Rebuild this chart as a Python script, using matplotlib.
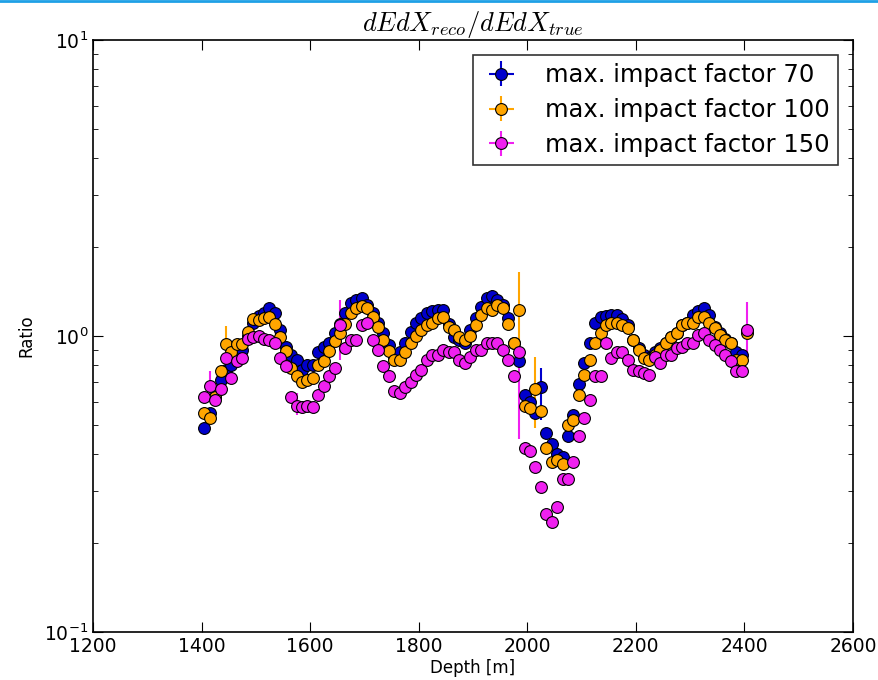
# dE/dX ratio vs depth for three max. impact factor settings
import numpy as np
import matplotlib.pyplot as plt
from matplotlib.lines import Line2D

# depth grid (m)
depth = np.arange(1405, 2406, 10)

# ratio values
ratio_70 = [0.49, 0.55, 0.62, 0.71, 0.77, 0.80, 0.85, 0.90, 1.00, 1.11,
            1.17, 1.20, 1.24, 1.20, 1.05, 0.92, 0.86, 0.83, 0.77, 0.80,
            0.80, 0.88, 0.92, 0.95, 1.02, 1.10, 1.20, 1.29, 1.32, 1.34,
            1.27, 1.20, 1.11, 1.02, 0.93, 0.85, 0.88, 0.95, 1.03, 1.11,
            1.15, 1.20, 1.21, 1.22, 1.22, 1.10, 0.99, 0.97, 0.95, 1.05,
            1.15, 1.25, 1.34, 1.37, 1.32, 1.27, 1.15, 0.95, 0.82, 0.63,
            0.60, 0.55, 0.67, 0.47, 0.43, 0.40, 0.39, 0.46, 0.54, 0.69,
            0.81, 0.95, 1.11, 1.16, 1.17, 1.18, 1.18, 1.14, 1.09, 0.97,
            0.91, 0.86, 0.84, 0.88, 0.91, 0.95, 0.99, 1.02, 1.09, 1.11,
            1.18, 1.21, 1.24, 1.18, 1.07, 1.02, 0.98, 0.95, 0.88, 0.86,
            1.04]
ratio_100 = [0.55, 0.53, 0.62, 0.76, 0.94, 0.88, 0.94, 0.94, 1.03, 1.14,
             1.13, 1.15, 1.16, 1.10, 0.99, 0.89, 0.78, 0.73, 0.70, 0.71,
             0.72, 0.80, 0.82, 0.89, 0.96, 1.02, 1.10, 1.20, 1.24, 1.26,
             1.24, 1.16, 1.07, 0.97, 0.89, 0.83, 0.83, 0.88, 0.95, 1.00,
             1.05, 1.09, 1.11, 1.15, 1.16, 1.07, 1.05, 0.99, 0.97, 1.00,
             1.09, 1.18, 1.24, 1.22, 1.27, 1.24, 1.10, 0.95, 1.22, 0.58,
             0.57, 0.66, 0.56, 0.42, 0.375, 0.38, 0.37, 0.50, 0.52, 0.63,
             0.74, 0.83, 0.95, 1.02, 1.09, 1.11, 1.11, 1.09, 1.06, 0.97,
             0.90, 0.84, 0.83, 0.86, 0.90, 0.95, 0.99, 1.02, 1.09, 1.11,
             1.11, 1.16, 1.16, 1.11, 1.06, 1.01, 0.97, 0.95, 0.83, 0.83,
             1.02]
ratio_150 = [0.62, 0.68, 0.61, 0.66, 0.84, 0.72, 0.82, 0.84, 0.98, 0.99,
             1.00, 0.98, 0.97, 0.95, 0.84, 0.79, 0.62, 0.58, 0.575, 0.58,
             0.575, 0.63, 0.68, 0.73, 0.78, 1.09, 0.91, 0.97, 0.97, 1.09,
             1.11, 0.97, 0.90, 0.79, 0.73, 0.65, 0.64, 0.67, 0.70, 0.74,
             0.77, 0.83, 0.86, 0.86, 0.90, 0.88, 0.88, 0.83, 0.81, 0.85,
             0.90, 0.90, 0.95, 0.95, 0.95, 0.90, 0.83, 0.73, 0.88, 0.42,
             0.41, 0.36, 0.31, 0.25, 0.235, 0.265, 0.33, 0.33, 0.375, 0.46,
             0.53, 0.61, 0.73, 0.73, 0.95, 0.84, 0.88, 0.88, 0.83, 0.77,
             0.76, 0.75, 0.74, 0.85, 0.81, 0.86, 0.86, 0.91, 0.92, 0.95,
             0.95, 1.01, 1.02, 0.97, 0.93, 0.90, 0.86, 0.82, 0.76, 0.76,
             1.05]

# typical relative error, plus the few large bars visible in the picture
rel_err = 0.04
big_err_70 = {62: (0.52, 0.78)}
big_err_100 = {4: (0.86, 1.08), 58: (0.95, 1.65), 61: (0.49, 0.85)}
big_err_150 = {1: (0.62, 0.76), 17: (0.54, 0.64), 25: (0.83, 1.32),
               58: (0.45, 0.95), 100: (0.81, 1.30)}

labels = ['max. impact factor 70', 'max. impact factor 100', 'max. impact factor 150']
colors = ['#0000cc', '#ffa500', '#f020f0']


def make_err(vals, big):
    vals = np.array(vals)
    lo = vals * rel_err
    hi = vals * rel_err
    for i, (a, b) in big.items():
        lo[i] = vals[i] - a
        hi[i] = b - vals[i]
    return [lo, hi]


fig = plt.figure(figsize=(8.79, 6.8), dpi=100)
ax = fig.add_axes([0.1058, 0.0706, 0.8646, 0.8706])

for vals, big, lab, col in zip([ratio_70, ratio_100, ratio_150],
                               [big_err_70, big_err_100, big_err_150],
                               labels, colors):
    # xerr=0 only so the legend handle shows the little cross
    ax.errorbar(depth, vals, yerr=make_err(vals, big), xerr=0, fmt='o',
                color=col, ecolor=col, mfc=col, mec='black', mew=0.8, ms=8.5,
                elinewidth=1.5, capsize=0, label=lab)

ax.set_yscale('log')
ax.set_xlim(1200, 2600)
ax.set_ylim(0.1, 10)
ax.tick_params(which='both', direction='in', top=True, right=True, labelsize=13.5)
ax.tick_params(which='major', length=7)
ax.tick_params(which='minor', length=3.5)
for s in ax.spines.values():
    s.set_linewidth(1.2)

ax.set_xlabel('Depth [m]', fontsize=12, labelpad=2)
ax.set_ylabel('Ratio', fontsize=12, labelpad=6)
ax.set_title(r'$dEdX_{reco}/dEdX_{true}$', fontsize=19, math_fontfamily='cm', pad=5)

leg = ax.legend(loc='upper right', numpoints=1, fontsize=17.5, fancybox=False,
                frameon=True, borderaxespad=0.6, handletextpad=1.0,
                labelspacing=0.45, handlelength=1.6, borderpad=0.35)
leg.get_frame().set_edgecolor('black')
leg.get_frame().set_linewidth(1.2)

# thin blue strip across the top of the picture
fig.add_artist(Line2D([0, 1], [0.998, 0.998], color='#1ea0e6', lw=2,
                      transform=fig.transFigure))

plt.savefig('out.png', dpi=100)
